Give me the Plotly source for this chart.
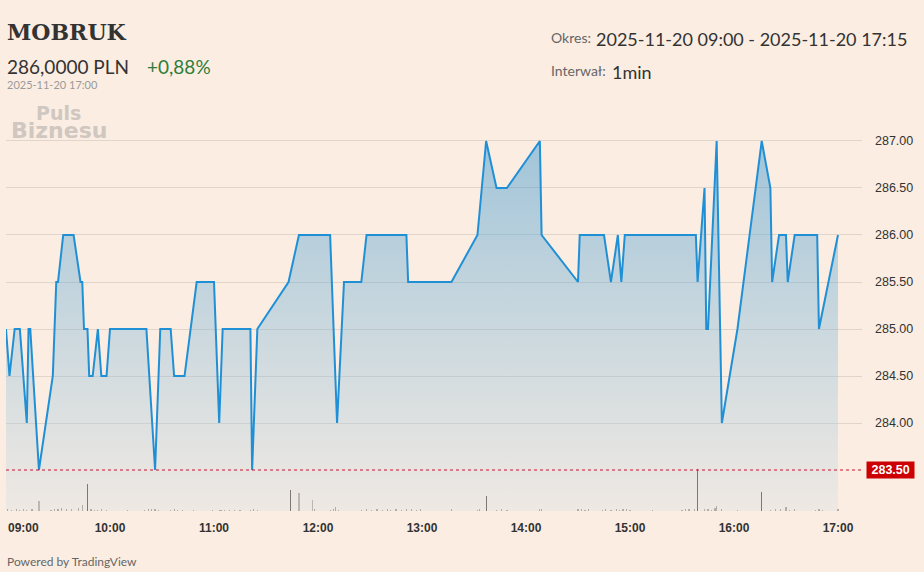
import plotly.graph_objects as go

DAY = "2025-11-20 "

# Price line (1-min, points where the line changes direction)
price_times = ["09:00", "09:02", "09:05", "09:08", "09:12", "09:13", "09:14", "09:19", "09:27", "09:29",
               "09:30", "09:33", "09:39", "09:43", "09:44", "09:45", "09:47", "09:48", "09:50", "09:53",
               "09:55", "09:58", "10:00", "10:21", "10:26", "10:29", "10:35", "10:37", "10:43", "10:50",
               "11:00", "11:03", "11:05", "11:21", "11:22", "11:25", "11:43", "11:49", "12:07", "12:11",
               "12:15", "12:25", "12:28", "12:51", "12:52", "13:17", "13:32", "13:37", "13:43", "13:49",
               "14:08", "14:09", "14:30", "14:31", "14:45", "14:49", "14:53", "14:55", "14:57", "15:38",
               "15:39", "15:43", "15:44", "15:45", "15:50", "15:53", "16:02", "16:16", "16:21", "16:22",
               "16:26", "16:30", "16:31", "16:35", "16:48", "16:49", "17:00"]
price_values = [285.0, 284.5, 285.0, 285.0, 284.0, 285.0, 285.0, 283.5, 284.5, 285.5,
                285.5, 286.0, 286.0, 285.5, 285.5, 285.0, 285.0, 284.5, 284.5, 285.0,
                284.5, 284.5, 285.0, 285.0, 283.5, 285.0, 285.0, 284.5, 284.5, 285.5,
                285.5, 284.0, 285.0, 285.0, 283.5, 285.0, 285.5, 286.0, 286.0, 284.0,
                285.5, 285.5, 286.0, 286.0, 285.5, 285.5, 286.0, 287.0, 286.5, 286.5,
                287.0, 286.0, 285.5, 286.0, 286.0, 285.5, 286.0, 285.5, 286.0, 286.0,
                285.5, 286.5, 285.0, 285.0, 287.0, 284.0, 285.0, 287.0, 286.5, 285.5,
                286.0, 286.0, 285.5, 286.0, 286.0, 285.0, 286.0]

# Volume (shares)
vol_times = ["09:01", "09:03", "09:06", "09:08", "09:10", "09:12", "09:15", "09:19", "09:26", "09:28",
             "09:30", "09:32", "09:35", "09:38", "09:42", "09:44", "09:47", "09:49", "09:51", "09:53",
             "09:55", "09:58", "10:10", "10:20", "10:22", "10:24", "10:26", "10:28", "10:35", "10:37",
             "10:39", "10:42", "10:48", "10:59", "11:03", "11:04", "11:06", "11:09", "11:12", "11:15",
             "11:21", "11:23", "11:25", "11:44", "11:49", "11:57", "11:58", "12:07", "12:09", "12:10",
             "12:12", "12:25", "12:28", "12:31", "12:34", "12:37", "12:40", "12:42", "12:45", "12:48",
             "12:51", "12:54", "12:57", "12:59", "13:17", "13:32", "13:33", "13:37", "13:43", "13:46",
             "13:49", "14:08", "14:09", "14:30", "14:32", "14:34", "14:36", "14:44", "14:46", "14:49",
             "14:52", "14:54", "14:56", "14:58", "15:00", "15:13", "15:30", "15:32", "15:34", "15:37",
             "15:39", "15:43", "15:45", "15:47", "15:49", "15:50", "15:53", "16:02", "16:16", "16:21",
             "16:24", "16:27", "16:30", "16:32", "16:35", "16:47", "16:49", "16:51", "17:00"]
vol_values = [20, 15, 20, 15, 20, 15, 20, 100, 15, 25,
              20, 30, 20, 25, 30, 60, 270, 20, 15, 15,
              20, 15, 15, 15, 20, 25, 20, 15, 15, 20,
              15, 10, 15, 15, 15, 10, 15, 10, 15, 10,
              15, 20, 10, 210, 180, 110, 20, 15, 20, 40,
              15, 15, 20, 15, 20, 15, 20, 15, 20, 15,
              20, 25, 15, 20, 20, 15, 20, 150, 15, 20,
              15, 20, 20, 20, 25, 15, 20, 15, 20, 15,
              20, 15, 25, 20, 15, 10, 15, 20, 25, 20,
              420, 20, 25, 15, 30, 50, 20, 15, 190, 15,
              20, 25, 40, 15, 20, 15, 20, 15, 20]
vol_big_down = ["09:47", "11:44", "13:37", "15:39", "16:16"]
vol_big_up = ["09:19", "11:49", "11:57"]

ref_price = 283.50
y_ticks = [284.0, 284.5, 285.0, 285.5, 286.0, 286.5, 287.0]
x_ticks = ["10:00", "11:00", "12:00", "13:00", "14:00", "15:00", "16:00", "17:00"]

BG = "#fbede2"
TXT = "#333333"

px_t = [DAY + t for t in price_times]
vx_t = [DAY + t for t in vol_times]

def vcolor(t):
    if t in vol_big_down:
        return "rgba(120,112,106,0.95)"
    if t in vol_big_up:
        return "rgba(185,176,168,0.9)"
    return "rgba(160,152,145,0.75)"

fig = go.Figure()

fig.add_trace(go.Scatter(
    x=px_t, y=price_values, mode="lines",
    line=dict(color="#1f90d6", width=2),
    fill="tozeroy",
    fillgradient=dict(type="vertical",
                      colorscale=[[0, "rgba(214,224,228,0.35)"], [1, "rgba(35,140,205,0.42)"]],
                      start=283.06, stop=287.0),
    hoverinfo="skip", showlegend=False,
))

fig.add_trace(go.Bar(
    x=vx_t, y=vol_values, yaxis="y2",
    marker=dict(color=[vcolor(t) for t in vol_times], line=dict(width=0)),
    width=40000, hoverinfo="skip", showlegend=False,
))

fig.update_layout(
    width=924, height=572,
    paper_bgcolor=BG, plot_bgcolor=BG,
    margin=dict(l=6, r=62, t=100, b=61),
    bargap=0,
    xaxis=dict(
        type="date",
        range=[DAY + "09:00", DAY + "17:13:51"],
        tickvals=[DAY + t for t in x_ticks],
        ticktext=x_ticks,
        showgrid=False, zeroline=False, showline=False,
        ticks="", ticklabelstandoff=8,
        tickfont=dict(family="Liberation Sans", size=12, color=TXT, weight="bold"),
    ),
    yaxis=dict(
        side="right", range=[283.064, 287.436],
        tickvals=y_ticks, tickformat=".2f",
        showgrid=True, gridcolor="#dfd5cb", gridwidth=1,
        zeroline=False, showline=False, ticks="",
        ticklabelstandoff=12,
        tickfont=dict(family="Liberation Sans", size=12.5, color=TXT),
    ),
    yaxis2=dict(overlaying="y", range=[0, 4110], visible=False, showgrid=False),
)

# reference price line
fig.add_shape(type="line", xref="paper", yref="y", x0=0, x1=1, y0=ref_price, y1=ref_price,
              line=dict(color="#c8102e", width=1, dash="dot"))
fig.add_annotation(xref="paper", yref="y", x=1, y=ref_price, xanchor="left", yanchor="middle",
                   xshift=4, text="&nbsp;<b>%.2f</b>&nbsp;" % ref_price, showarrow=False,
                   bgcolor="#cc0000", font=dict(family="Liberation Sans", size=12.5, color="white"),
                   borderpad=1)

# first time label kept inside the chart
fig.add_annotation(xref="x", yref="paper", x=DAY + "09:00", y=0, xanchor="left", yanchor="top",
                   xshift=0, yshift=-8, text="<b>09:00</b>", showarrow=False,
                   font=dict(family="Liberation Sans", size=12, color=TXT))

def ptext(px, py, text, size, color, family="Lato", xanchor="left", yanchor="middle"):
    fig.add_annotation(xref="paper", yref="paper", x=(px - 6) / 856, y=(511 - py) / 411,
                       xanchor=xanchor, yanchor=yanchor, text=text, showarrow=False,
                       font=dict(family=family, size=size, color=color))

ptext(5, 32, "<b>MOBRUK</b>", 22, "#333333", family="DejaVu Serif")
ptext(5, 66, "286,0000 PLN", 19, "#333333")
ptext(145, 66, "+0,88%", 19, "#2e7d3a")
ptext(5, 84, "2025-11-20 17:00", 11, "#9a9a9a")
ptext(34, 113, "<b>Puls</b>", 19, "#cfc7c0", family="DejaVu Sans")
ptext(9, 130, "<b>Biznesu</b>", 22, "#cfc7c0", family="DejaVu Sans")
ptext(549, 38, "Okres:", 14, "#666666")
ptext(594, 39, "2025-11-20 09:00 - 2025-11-20 17:15", 18, "#333333")
ptext(549, 71, "Interwał:", 14, "#666666")
ptext(610, 72, "1min", 18, "#333333")
ptext(5, 561, "Powered by TradingView", 12, "#666666")

fig.write_html("out.html", config={"displayModeBar": False},
               post_script="document.body.style.margin='0';")
